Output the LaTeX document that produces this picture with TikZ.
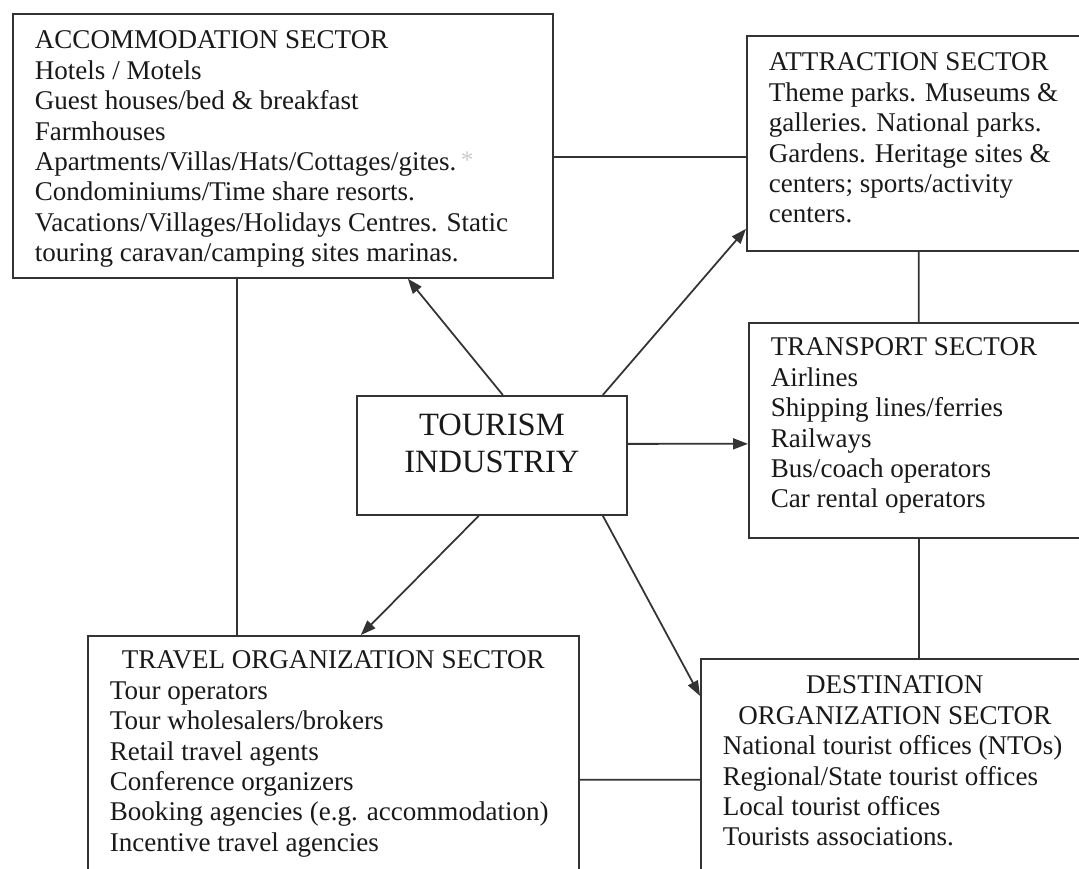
\documentclass[tikz,border=0pt]{standalone}
\usepackage{fontspec}
\setmainfont{Liberation Serif}
\usetikzlibrary{arrows.meta}

\tikzset{
	sector/.style={draw=inkgray, line width=1pt, anchor=north west, inner xsep=0.44cm, inner ysep=0pt, text=black!90, font=\fontsize{15.4}{17.3}\selectfont},
	hub/.style={draw=inkgray, line width=1pt, anchor=north west, inner sep=0pt, minimum width=5.4cm, text=black!90, font=\fontsize{18.5}{21}\selectfont},
	link/.style={draw=inkgray, line width=1pt},
	arr/.style={draw=inkgray, line width=1pt, -{Triangle[length=0.3cm,width=0.22cm]}}
}

\begin{document}
\begin{tikzpicture}[x=0.02cm,y=-0.02cm]
		\definecolor{inkgray}{HTML}{333333}
		\useasboundingbox (0,0) rectangle (1079,869);
		\clip (0,0) rectangle (1079,869);
		
		% sectors
		\node[sector, text height=0.7cm, text depth=4.58cm] (accom) at (12,13) {
				\begin{tabular}[t]{@{}p{9.92cm}@{}}
				ACCOMMODATION SECTOR\\
				Hotels / Motels\\
				Guest houses/bed \& breakfast\\
				Farmhouses\\
				Apartments/Villas/Hats/Cottages/gites.\,\textcolor{gray!40}{\raisebox{1pt}{\Large *}}\\
				Condominiums/Time share resorts.\\
				Vacations/Villages/Holidays Centres. Static\\
				touring caravan/camping sites marinas.
				\end{tabular}};
		
		\node[sector, text height=0.7cm, text depth=3.6cm] (attract) at (746,35) {
				\begin{tabular}[t]{@{}p{6cm}@{}}
				ATTRACTION SECTOR\\
				Theme parks. Museums \&\\
				galleries. National parks.\\
				Gardens. Heritage sites \&\\
				centers; sports/activity\\
				centers.
				\end{tabular}};
		
		\node[sector, text height=0.66cm, text depth=3.64cm] (transport) at (748,322) {
				\begin{tabular}[t]{@{}p{5.92cm}@{}}
				TRANSPORT SECTOR\\
				Airlines\\
				Shipping lines/ferries\\
				Railways\\
				Bus/coach operators\\
				Car rental operators
				\end{tabular}};
		
		\node[sector, text height=0.66cm, text depth=5.1cm] (travel) at (87,635) {
				\begin{tabular}[t]{@{}p{8.94cm}@{}}
				\multicolumn{1}{@{}c@{}}{TRAVEL ORGANIZATION SECTOR}\\
				Tour operators\\
				Tour wholesalers/brokers\\
				Retail travel agents\\
				Conference organizers\\
				Booking agencies (e.g. accommodation)\\
				Incentive travel agencies
				\end{tabular}};
		
		\node[sector, text height=0.7cm, text depth=4.14cm] (destin) at (700,658) {
				\begin{tabular}[t]{@{}p{6.88cm}@{}}
				\multicolumn{1}{@{}c@{}}{DESTINATION}\\
				\multicolumn{1}{@{}c@{}}{ORGANIZATION SECTOR}\\
				National tourist offices (NTOs)\\
				Regional/State tourist offices\\
				Local tourist offices\\
				Tourists associations.
				\end{tabular}};
		
		\node[hub, text height=0.8cm, text depth=1.58cm] (tour) at (356,395) {
				\begin{tabular}[t]{@{}c@{}}
				TOURISM\\
				INDUSTRIY
				\end{tabular}};
		
		% links between sectors
		\draw[link] ([yshift=-0.22cm]accom.east) -- ([yshift=-0.22cm]accom.east -| attract.west);
		\draw[link] (attract.south) -- (transport.north);
		\draw[link] (transport.south) -- (transport.south |- destin.north);
		\draw[link] ([xshift=-0.92cm]accom.south) -- ([xshift=-0.92cm]accom.south |- travel.north);
		\draw[link] (travel.east) -- (destin.west);
		
		% arrows from the industry
		\draw[arr] ([xshift=0.22cm]tour.north) -- ([xshift=2.5cm]accom.south);
		\draw[arr] ([xshift=2.22cm]tour.north) -- ([yshift=-1.71cm]attract.west);
		\draw[arr] ([yshift=0.23cm]tour.east) -- ([yshift=-0.27cm]transport.west);
		\draw[arr] ([xshift=-0.26cm]tour.south) -- ([xshift=0.55cm]travel.north);
		\draw[arr] ([xshift=2.22cm]tour.south) -- ([yshift=1.68cm]destin.west);
\end{tikzpicture}
\end{document}
